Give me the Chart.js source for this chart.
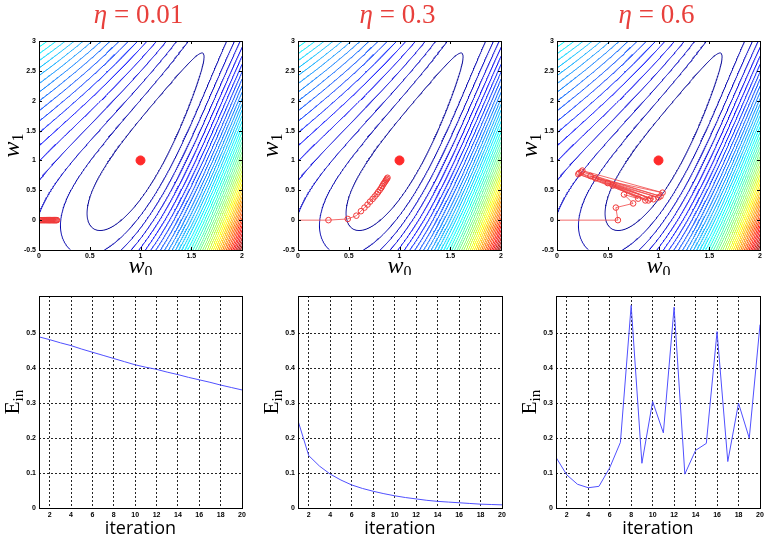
<!DOCTYPE html>
<html>
<head>
<meta charset="utf-8">
<script src="https://cdn.jsdelivr.net/npm/chart.js@4.4.1/dist/chart.umd.min.js"></script>
<style>
  body { margin: 0; background: #fff; }
  canvas { position: absolute; }
</style>
</head>
<body>
<canvas id="c1"></canvas><canvas id="c2"></canvas><canvas id="c3"></canvas>
<canvas id="c4"></canvas><canvas id="c5"></canvas><canvas id="c6"></canvas>
<script>
// ---- data ----
const etaLabels = ['0.01', '0.3', '0.6'];
const iterations = [1, 2, 3, 4, 5, 6, 7, 8, 9, 10, 11, 12, 13, 14, 15, 16, 17, 18, 19, 20];
const einEta001 = [0.490, 0.482, 0.473, 0.465, 0.455, 0.446, 0.437, 0.428, 0.419, 0.410,
                   0.403, 0.397, 0.389, 0.382, 0.374, 0.367, 0.360, 0.352, 0.345, 0.338];
const einEta03 = [0.250, 0.150, 0.120, 0.097, 0.080, 0.066, 0.056, 0.048, 0.041, 0.035,
                  0.030, 0.026, 0.022, 0.019, 0.017, 0.015, 0.013, 0.011, 0.010, 0.009];
const einEta06 = [0.145, 0.095, 0.068, 0.058, 0.062, 0.115, 0.188, 0.580, 0.128, 0.305,
                  0.215, 0.575, 0.097, 0.165, 0.185, 0.505, 0.133, 0.300, 0.200, 0.525];

const startW = [0, 0];
const optimumW = [1, 1];
const pathW0Eta001 = [0.010, 0.020, 0.030, 0.040, 0.049, 0.058, 0.068, 0.077, 0.086, 0.095,
                      0.103, 0.112, 0.120, 0.129, 0.137, 0.145, 0.153, 0.161, 0.169, 0.177];
const pathW1Eta001 = [0, 0, 0, 0, 0, 0, 0, 0, 0, 0, 0, 0, 0, 0, 0, 0, 0, 0, 0, 0];
const pathW0Eta03 = [0.30, 0.49, 0.575, 0.62, 0.655, 0.685, 0.71, 0.735, 0.755, 0.775,
                     0.79, 0.805, 0.82, 0.83, 0.84, 0.85, 0.86, 0.868, 0.875, 0.882];
const pathW1Eta03 = [0.00, 0.02, 0.075, 0.15, 0.21, 0.26, 0.31, 0.355, 0.395, 0.435,
                     0.47, 0.505, 0.54, 0.57, 0.60, 0.625, 0.65, 0.672, 0.692, 0.71];
const pathW0Eta06 = [0.60, 0.58, 0.75, 0.66, 0.80, 0.55, 0.90, 0.21, 0.95, 0.38,
                     1.04, 0.25, 0.92, 0.50, 1.00, 0.22, 0.87, 0.33, 1.02, 0.24];
const pathW1Eta06 = [0.00, 0.21, 0.28, 0.43, 0.36, 0.58, 0.33, 0.77, 0.35, 0.70,
                     0.46, 0.83, 0.36, 0.62, 0.38, 0.79, 0.33, 0.74, 0.40, 0.81];

const w0Ticks = [0, 0.5, 1, 1.5, 2];
const w1Ticks = [-0.5, 0, 0.5, 1, 1.5, 2, 2.5, 3];
const iterTicks = [2, 4, 6, 8, 10, 12, 14, 16, 18, 20];
const einTicks = [0, 0.1, 0.2, 0.3, 0.4, 0.5];

// ---- error surface behind the contour panels ----
function surface(w0, w1) {
  const dl = w1 - 1;
  const d = w0 - (1 + 0.337 * dl);
  const across = d < 0
    ? 1.41 * (Math.sqrt(1 + 20 * d * d) - 1) * Math.exp(0.3 * dl)
    : 16 * d * d * (1 + 0.49 * d) * Math.exp(0.25 * dl);
  return across + 0.561 * dl * dl * (1 - 0.25 * dl);
}

const GX = 201, GY = 201;
const gw0 = [], gw1 = [];
for (let i = 0; i < GX; i++) gw0.push(0 + 2 * i / (GX - 1));
for (let j = 0; j < GY; j++) gw1.push(-0.5 + 3.5 * j / (GY - 1));
const field = [];
let fMax = 0;
for (let j = 0; j < GY; j++) {
  const row = [];
  for (let i = 0; i < GX; i++) {
    const v = surface(gw0[i], gw1[j]);
    row.push(v);
    if (v > fMax) fMax = v;
  }
  field.push(row);
}
const nLevels = Math.floor(fMax);
const levelPts = [];
for (let k = 0; k <= nLevels; k++) levelPts.push([]);

// marching squares, one pass over the cells
for (let j = 0; j < GY - 1; j++) {
  for (let i = 0; i < GX - 1; i++) {
    const v = [field[j][i], field[j][i + 1], field[j + 1][i + 1], field[j + 1][i]];
    const lo = Math.min(v[0], v[1], v[2], v[3]), hi = Math.max(v[0], v[1], v[2], v[3]);
    const k0 = Math.max(1, Math.ceil(lo)), k1 = Math.min(nLevels, Math.floor(hi));
    if (k0 > k1) continue;
    const cx = [gw0[i], gw0[i + 1], gw0[i + 1], gw0[i]];
    const cy = [gw1[j], gw1[j], gw1[j + 1], gw1[j + 1]];
    for (let k = k0; k <= k1; k++) {
      const cross = [];
      for (let e = 0; e < 4; e++) {
        const a = v[e], b = v[(e + 1) % 4];
        if ((a < k) !== (b < k)) {
          const t = (k - a) / (b - a);
          const n = (e + 1) % 4;
          cross.push({x: cx[e] + t * (cx[n] - cx[e]), y: cy[e] + t * (cy[n] - cy[e])});
        }
      }
      const out = levelPts[k];
      if (cross.length === 2) {
        out.push(cross[0], cross[1], {x: cross[1].x, y: null});
      } else if (cross.length === 4) {
        out.push(cross[0], cross[1], {x: cross[1].x, y: null});
        out.push(cross[2], cross[3], {x: cross[3].x, y: null});
      }
    }
  }
}

function jet(v) {
  const c = x => Math.round(255 * Math.min(Math.max(1.5 - Math.abs(x), 0), 1));
  return 'rgb(' + c(4 * v - 3) + ',' + c(4 * v - 2) + ',' + c(4 * v - 1) + ')';
}

function contourDatasets() {
  const sets = [];
  for (let k = 1; k <= nLevels; k++) {
    sets.push({
      data: levelPts[k], showLine: true, pointRadius: 0, borderWidth: 1,
      borderColor: jet(k / fMax), spanGaps: false, order: 10
    });
  }
  return sets;
}

// ---- drawing helpers ----
function drawRich(ctx, parts, cx, cy, rot) {
  ctx.save();
  ctx.translate(cx, cy);
  if (rot) ctx.rotate(rot);
  ctx.textBaseline = 'middle';
  let total = 0;
  parts.forEach(p => { ctx.font = p.font; p.w = ctx.measureText(p.text).width; total += p.w; });
  let x = -total / 2;
  parts.forEach(p => {
    ctx.font = p.font;
    ctx.fillStyle = p.color || '#000';
    ctx.fillText(p.text, x, p.dy || 0);
    x += p.w;
  });
  ctx.restore();
}

const panelDecor = {
  id: 'panelDecor',
  afterDraw(chart, args, o) {
    const ctx = chart.ctx, a = chart.chartArea;
    ctx.save();
    ctx.strokeStyle = '#000';
    ctx.lineWidth = 1;
    if (o.inwardTicks) {
      ctx.beginPath();
      const sx = chart.scales.x, sy = chart.scales.y;
      sx.ticks.forEach(t => {
        const px = Math.round(sx.getPixelForValue(t.value)) + 0.5;
        ctx.moveTo(px, a.bottom); ctx.lineTo(px, a.bottom - 3);
        ctx.moveTo(px, a.top); ctx.lineTo(px, a.top + 3);
      });
      sy.ticks.forEach(t => {
        const py = Math.round(sy.getPixelForValue(t.value)) + 0.5;
        ctx.moveTo(a.left, py); ctx.lineTo(a.left + 3, py);
        ctx.moveTo(a.right, py); ctx.lineTo(a.right - 3, py);
      });
      ctx.stroke();
    }
    ctx.strokeRect(a.left + 0.5, a.top + 0.5, a.right - a.left, a.bottom - a.top);
    const mx = (a.left + a.right) / 2, my = (a.top + a.bottom) / 2;
    if (o.title) drawRich(ctx, o.title, mx - 2, o.titleY);
    if (o.xLabel) drawRich(ctx, o.xLabel, mx, a.bottom + o.xLabelGap);
    if (o.yLabel) drawRich(ctx, o.yLabel, a.left - 26, my, -Math.PI / 2);
    ctx.restore();
  }
};

const tickFont = {family: 'Liberation Sans', size: 7, weight: 'bold'};
const serif = '"Liberation Serif"';

function makeChart(id, box, area, datasets, xs, ys, decor) {
  const cv = document.getElementById(id);
  cv.width = box.w; cv.height = box.h;
  cv.style.left = box.x + 'px'; cv.style.top = box.y + 'px';
  cv.style.width = box.w + 'px'; cv.style.height = box.h + 'px';
  return new Chart(cv, {
    type: 'scatter',
    data: {datasets: datasets},
    plugins: [panelDecor],
    options: {
      responsive: false, animation: false, parsing: false, normalized: true,
      layout: {padding: {left: 0, bottom: 0, top: area.top - box.y, right: box.x + box.w - area.right}},
      plugins: {legend: {display: false}, tooltip: {enabled: false}, panelDecor: decor},
      scales: {
        x: Object.assign({
          type: 'linear',
          afterFit: s => { s.height = box.y + box.h - area.bottom; }
        }, xs),
        y: Object.assign({
          type: 'linear',
          afterFit: s => { s.width = area.left - box.x; }
        }, ys)
      }
    }
  });
}

function surfScales() {
  return [{
    min: 0, max: 2,
    afterBuildTicks: s => { s.ticks = w0Ticks.map(v => ({value: v})); },
    ticks: {font: tickFont, color: '#000', padding: 2, maxRotation: 0, callback: v => String(v)},
    grid: {display: false, drawTicks: false}, border: {display: false}
  }, {
    min: -0.5, max: 3,
    afterBuildTicks: s => { s.ticks = w1Ticks.map(v => ({value: v})); },
    ticks: {font: tickFont, color: '#000', padding: 3, callback: v => String(v)},
    grid: {display: false, drawTicks: false}, border: {display: false}
  }];
}

function einScales() {
  return [{
    min: 1, max: 20,
    afterBuildTicks: s => { s.ticks = iterTicks.map(v => ({value: v})); },
    ticks: {font: tickFont, color: '#000', padding: 3, maxRotation: 0, callback: v => String(v)},
    grid: {color: 'rgba(0,0,0,0.85)', drawTicks: false, lineWidth: 1},
    border: {display: false, dash: [2, 2]}
  }, {
    min: 0, max: 0.607,
    afterBuildTicks: s => { s.ticks = einTicks.map(v => ({value: v})); },
    ticks: {font: tickFont, color: '#000', padding: 3, callback: v => String(v)},
    grid: {color: 'rgba(0,0,0,0.85)', drawTicks: false, lineWidth: 1},
    border: {display: false, dash: [2, 2]}
  }];
}

function pathDatasets(w0s, w1s) {
  const pts = [{x: startW[0], y: startW[1]}];
  w0s.forEach((v, i) => pts.push({x: v, y: w1s[i]}));
  return [{
    data: [{x: optimumW[0], y: optimumW[1]}], pointRadius: 4.5,
    pointBackgroundColor: '#ff2a2a', pointBorderColor: '#ff2a2a', order: 0
  }, {
    data: pts, showLine: true, borderColor: 'rgba(240,70,70,0.8)', borderWidth: 1,
    pointRadius: c => (c.dataIndex === 0 ? 0 : 2.8), pointBorderWidth: 1,
    pointBorderColor: '#f03a3a', pointBackgroundColor: 'rgba(255,255,255,0)', order: 1
  }];
}

function einDataset(values) {
  return [{
    data: iterations.map((v, i) => ({x: v, y: values[i]})), showLine: true,
    borderColor: 'rgb(80,80,255)', borderWidth: 1, pointRadius: 0
  }];
}

const cols = [{x: 0, w: 258}, {x: 258, w: 257}, {x: 515, w: 258}];
const topAreas = [
  {left: 39, right: 242, top: 41, bottom: 250},
  {left: 298, right: 501, top: 41, bottom: 250},
  {left: 557, right: 760, top: 41, bottom: 250}
];
const botAreas = [
  {left: 39, right: 242, top: 296, bottom: 508},
  {left: 298, right: 502, top: 296, bottom: 508},
  {left: 556, right: 760, top: 296, bottom: 508}
];
const paths = [[pathW0Eta001, pathW1Eta001], [pathW0Eta03, pathW1Eta03], [pathW0Eta06, pathW1Eta06]];
const eins = [einEta001, einEta03, einEta06];

for (let p = 0; p < 3; p++) {
  const tBox = {x: cols[p].x, y: 0, w: cols[p].w, h: 275};
  const ss = surfScales();
  makeChart('c' + (p + 1), tBox, topAreas[p],
    pathDatasets(paths[p][0], paths[p][1]).concat(contourDatasets()), ss[0], ss[1], {
      inwardTicks: true,
      titleY: 16,
      title: [
        {text: 'η', font: 'italic 27px ' + serif, color: '#e8403c'},
        {text: ' = ' + etaLabels[p], font: '27px ' + serif, color: '#e8403c'}
      ],
      xLabelGap: 17,
      xLabel: [{text: 'w', font: 'italic 24px ' + serif}, {text: '0', font: '16px ' + serif, dy: 6}],
      yLabel: [{text: 'w', font: 'italic 24px ' + serif}, {text: '1', font: '16px ' + serif, dy: 6}]
    });

  const bBox = {x: cols[p].x, y: 275, w: cols[p].w, h: 270};
  const es = einScales();
  makeChart('c' + (p + 4), bBox, botAreas[p], einDataset(eins[p]), es[0], es[1], {
    inwardTicks: false,
    xLabelGap: 21,
    xLabel: [{text: 'iteration', font: '18px "Open Sans"'}],
    yLabel: [{text: 'E', font: '21px ' + serif}, {text: 'in', font: '15px ' + serif, dy: 6}]
  });
}
</script>
</body>
</html>
